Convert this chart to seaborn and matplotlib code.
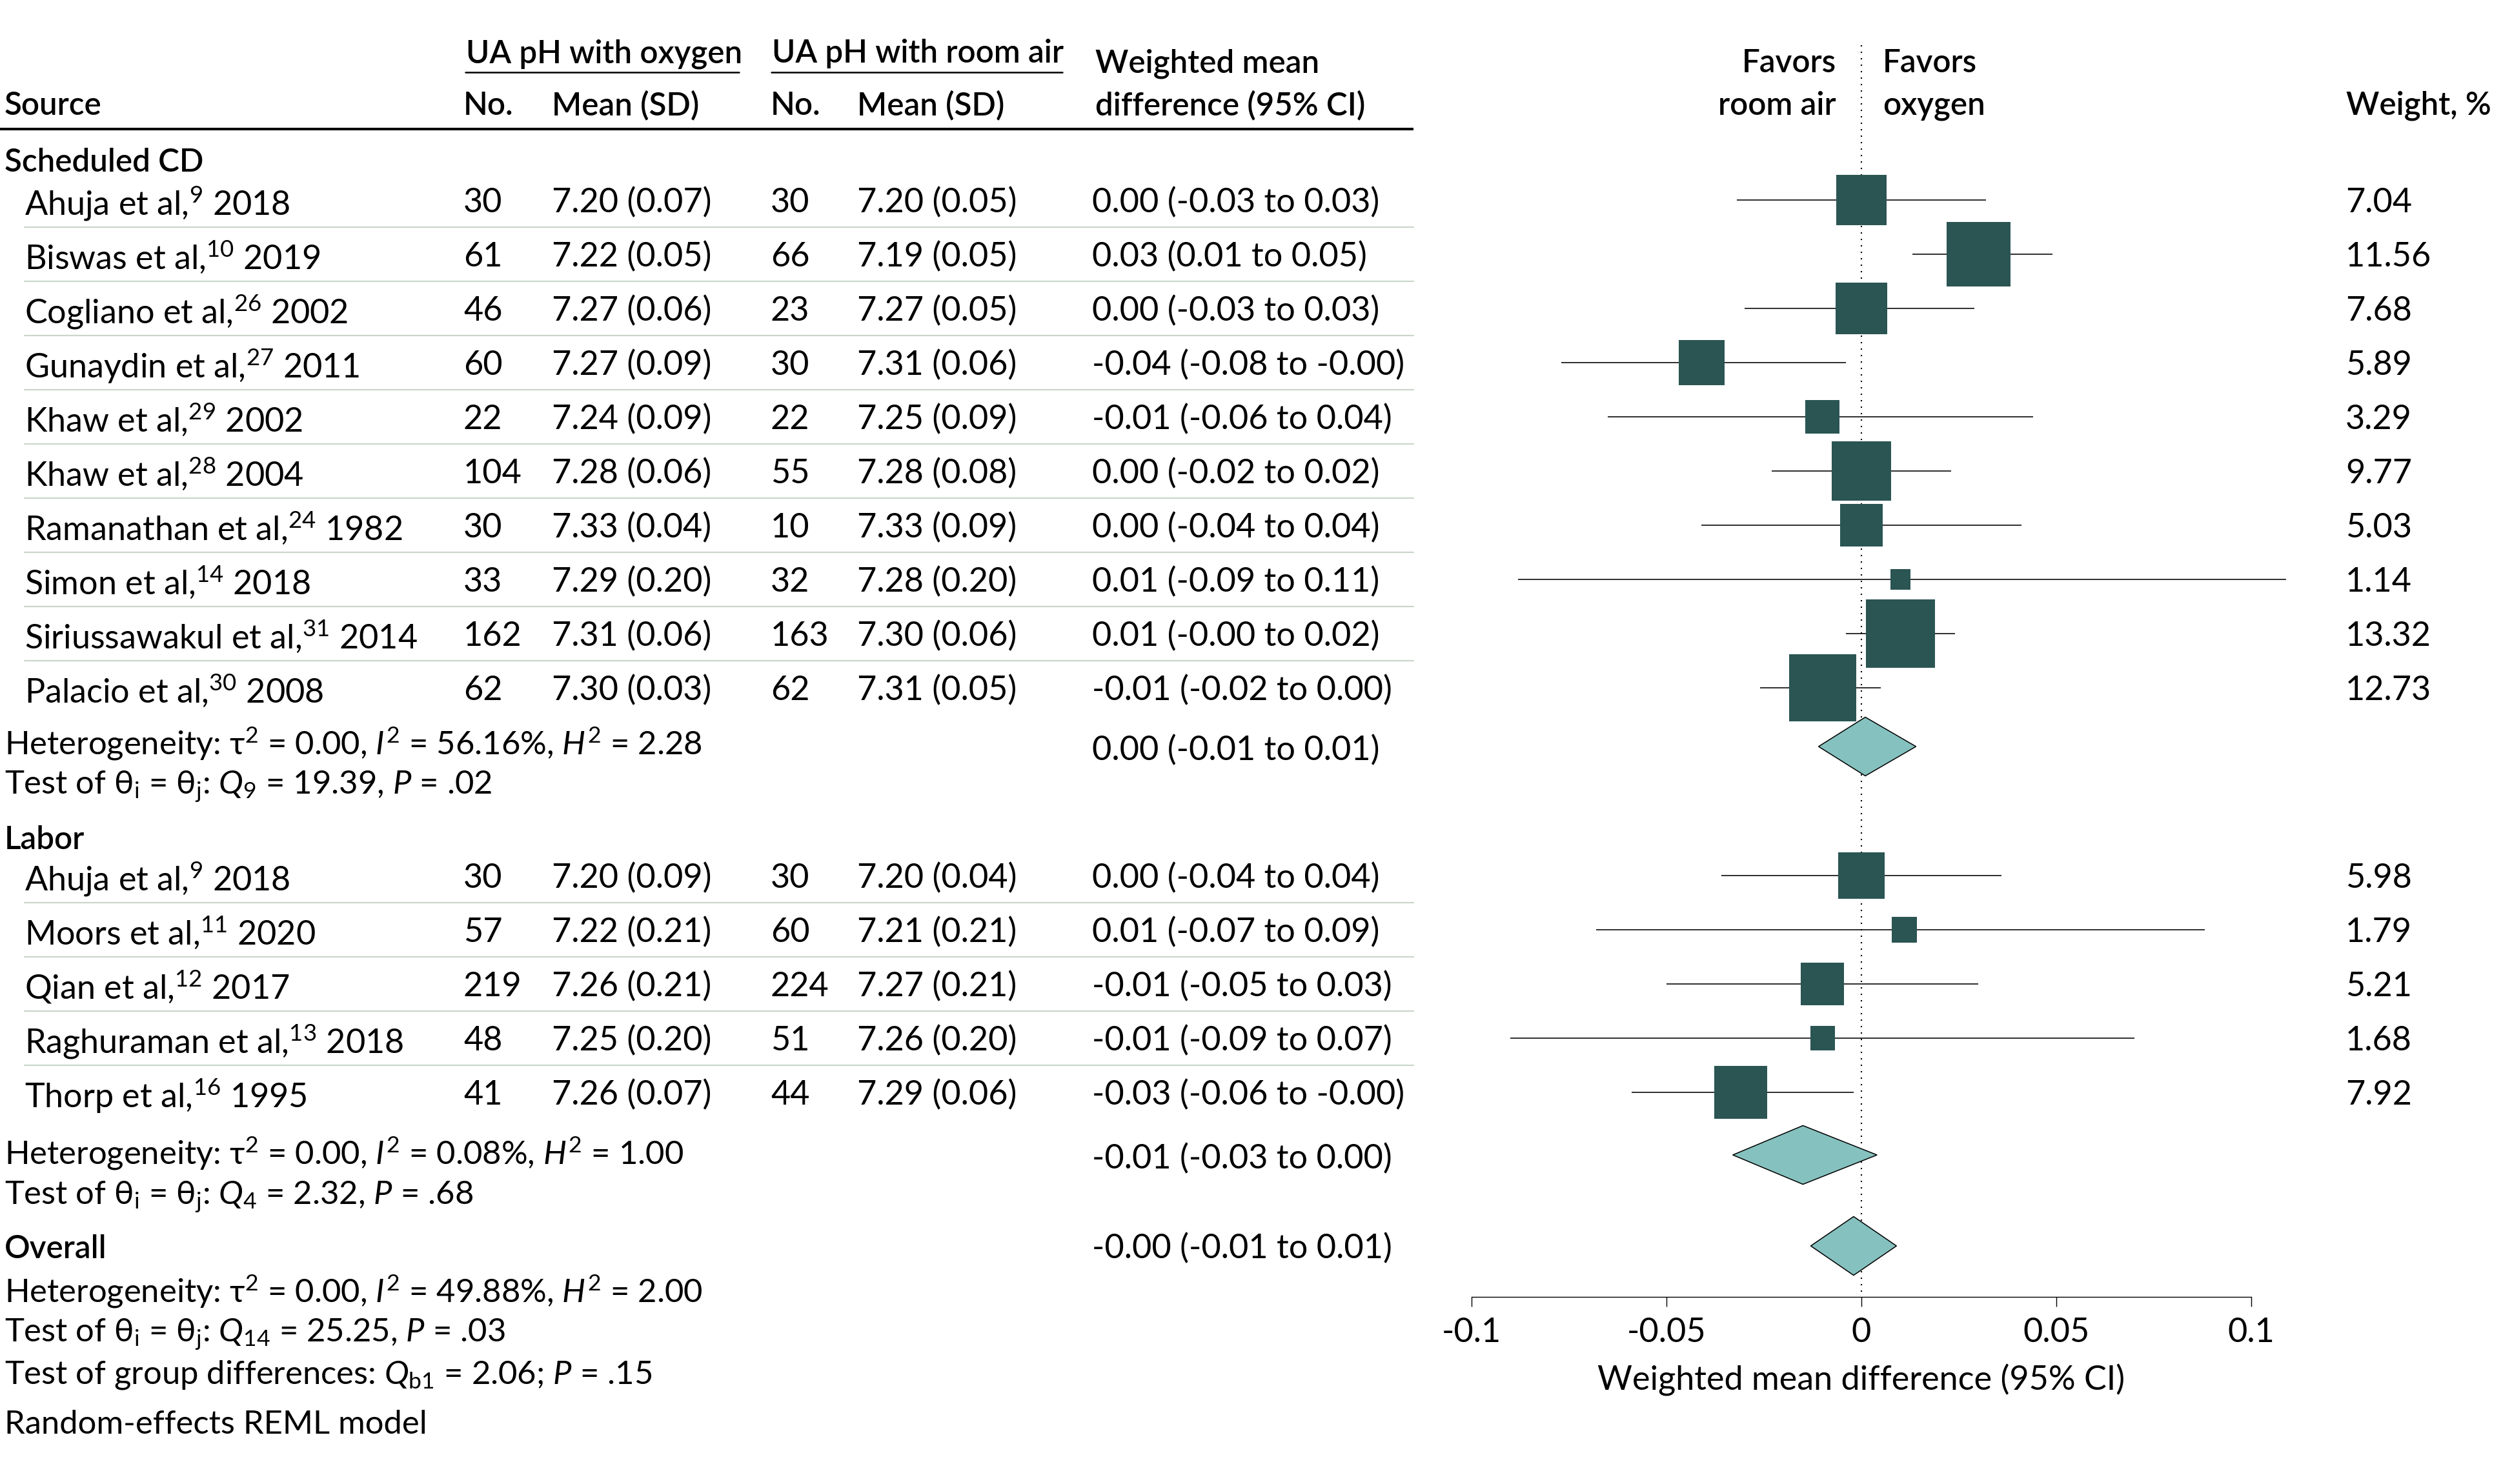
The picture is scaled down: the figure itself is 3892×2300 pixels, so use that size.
import numpy as np
import pandas as pd
import matplotlib
matplotlib.use("Agg")
import matplotlib.pyplot as plt
import seaborn as sns
from matplotlib.patches import Polygon

# ---------------- data ----------------
cd_names = ["Ahuja et al", "Biswas et al", "Cogliano et al", "Gunaydin et al", "Khaw et al",
            "Khaw et al", "Ramanathan et al", "Simon et al", "Siriussawakul et al", "Palacio et al"]
cd_refs = ["9", "10", "26", "27", "29", "28", "24", "14", "31", "30"]
cd_years = ["2018", "2019", "2002", "2011", "2002", "2004", "1982", "2018", "2014", "2008"]
cd_n_ox = ["30", "61", "46", "60", "22", "104", "30", "33", "162", "62"]
cd_mean_ox = ["7.20 (0.07)", "7.22 (0.05)", "7.27 (0.06)", "7.27 (0.09)", "7.24 (0.09)",
              "7.28 (0.06)", "7.33 (0.04)", "7.29 (0.20)", "7.31 (0.06)", "7.30 (0.03)"]
cd_n_ra = ["30", "66", "23", "30", "22", "55", "10", "32", "163", "62"]
cd_mean_ra = ["7.20 (0.05)", "7.19 (0.05)", "7.27 (0.05)", "7.31 (0.06)", "7.25 (0.09)",
              "7.28 (0.08)", "7.33 (0.09)", "7.28 (0.20)", "7.30 (0.06)", "7.31 (0.05)"]
cd_ci_text = ["0.00 (-0.03 to 0.03)", "0.03 (0.01 to 0.05)", "0.00 (-0.03 to 0.03)",
              "-0.04 (-0.08 to -0.00)", "-0.01 (-0.06 to 0.04)", "0.00 (-0.02 to 0.02)",
              "0.00 (-0.04 to 0.04)", "0.01 (-0.09 to 0.11)", "0.01 (-0.00 to 0.02)",
              "-0.01 (-0.02 to 0.00)"]
cd_weight = [7.04, 11.56, 7.68, 5.89, 3.29, 9.77, 5.03, 1.14, 13.32, 12.73]
cd_est = [0.000, 0.030, 0.000, -0.041, -0.010, 0.000, 0.000, 0.010, 0.010, -0.010]
cd_lo = [-0.032, 0.013, -0.030, -0.077, -0.065, -0.023, -0.041, -0.088, -0.004, -0.026]
cd_hi = [0.032, 0.049, 0.029, -0.004, 0.044, 0.023, 0.041, 0.109, 0.024, 0.005]

lab_names = ["Ahuja et al", "Moors et al", "Qian et al", "Raghuraman et al", "Thorp et al"]
lab_refs = ["9", "11", "12", "13", "16"]
lab_years = ["2018", "2020", "2017", "2018", "1995"]
lab_n_ox = ["30", "57", "219", "48", "41"]
lab_mean_ox = ["7.20 (0.09)", "7.22 (0.21)", "7.26 (0.21)", "7.25 (0.20)", "7.26 (0.07)"]
lab_n_ra = ["30", "60", "224", "51", "44"]
lab_mean_ra = ["7.20 (0.04)", "7.21 (0.21)", "7.27 (0.21)", "7.26 (0.20)", "7.29 (0.06)"]
lab_ci_text = ["0.00 (-0.04 to 0.04)", "0.01 (-0.07 to 0.09)", "-0.01 (-0.05 to 0.03)",
               "-0.01 (-0.09 to 0.07)", "-0.03 (-0.06 to -0.00)"]
lab_weight = [5.98, 1.79, 5.21, 1.68, 7.92]
lab_est = [0.000, 0.011, -0.010, -0.010, -0.031]
lab_lo = [-0.036, -0.068, -0.050, -0.090, -0.059]
lab_hi = [0.036, 0.088, 0.030, 0.070, -0.002]

summary_labels = ["Scheduled CD", "Labor", "Overall"]
summary_ci_text = ["0.00 (-0.01 to 0.01)", "-0.01 (-0.03 to 0.00)", "-0.00 (-0.01 to 0.01)"]
summary_est = [0.001, -0.015, -0.002]
summary_lo = [-0.011, -0.033, -0.013]
summary_hi = [0.014, 0.004, 0.009]

cd_stats = [r"Heterogeneity: $\mathrm{\tau}^2$ = 0.00, $I^2$ = 56.16%, $H^2$ = 2.28",
            r"Test of $\mathrm{\theta}_\mathrm{i}$ = $\mathrm{\theta}_\mathrm{j}$: $Q_9$ = 19.39, $P$ = .02"]
lab_stats = [r"Heterogeneity: $\mathrm{\tau}^2$ = 0.00, $I^2$ = 0.08%, $H^2$ = 1.00",
             r"Test of $\mathrm{\theta}_\mathrm{i}$ = $\mathrm{\theta}_\mathrm{j}$: $Q_4$ = 2.32, $P$ = .68"]
overall_stats = [r"Heterogeneity: $\mathrm{\tau}^2$ = 0.00, $I^2$ = 49.88%, $H^2$ = 2.00",
                 r"Test of $\mathrm{\theta}_\mathrm{i}$ = $\mathrm{\theta}_\mathrm{j}$: $Q_{14}$ = 25.25, $P$ = .03",
                 r"Test of group differences: $Q_\mathrm{b1}$ = 2.06; $P$ = .15"]
footnote = "Random-effects REML model"

xticks = [-0.1, -0.05, 0, 0.05, 0.1]
xtick_labels = ["-0.1", "-0.05", "0", "0.05", "0.1"]

# ---------------- style ----------------
sns.set_theme(style="white")
FONT = "Lato"
plt.rcParams["font.family"] = [FONT, "DejaVu Sans"]
plt.rcParams["mathtext.fontset"] = "custom"
plt.rcParams["mathtext.rm"] = FONT
plt.rcParams["mathtext.it"] = FONT + ":italic"
plt.rcParams["mathtext.bf"] = FONT + ":bold"
plt.rcParams["mathtext.sf"] = FONT
plt.rcParams["axes.unicode_minus"] = False

BOX = "#2a5553"
DIAM = "#85c1bf"
SEP = "#c9d7cb"
FS = 37.5
HFS = 35.5
SFS = 36.5

W, H = 3892, 2300
fig = plt.figure(figsize=(W / 100, H / 100), dpi=100)

# table axes (pixel coordinates)
tab = fig.add_axes([0, 0, 1, 1])
tab.set_xlim(0, W)
tab.set_ylim(H, 0)
tab.axis("off")

# forest axes: y in pixel units shared with table, x in data units
AX_TOP_PX, AX_BOT_PX = 0, 2010
X0_PX, X1_PX = 2280, 3488
ax = fig.add_axes([X0_PX / W, 1 - AX_BOT_PX / H, (X1_PX - X0_PX) / W, (AX_BOT_PX - AX_TOP_PX) / H])
ax.patch.set_alpha(0)
ax.set_xlim(-0.1, 0.1)
ax.set_ylim(AX_BOT_PX, AX_TOP_PX)

# ---------------- layout (row positions) ----------------
cd_y = [310 + 84 * i for i in range(len(cd_names))]
lab_y = [1357 + 84 * i for i in range(len(lab_names))]
sum_y = [1157, 1790, 1931]

df = pd.DataFrame({
    "est": cd_est + lab_est,
    "lo": cd_lo + lab_lo,
    "hi": cd_hi + lab_hi,
    "weight": cd_weight + lab_weight,
    "y": cd_y + lab_y,
})

# CI lines
ax.hlines(df["y"], df["lo"], df["hi"], color="black", lw=1.15, zorder=2, clip_on=False)
# weighted squares (area proportional to weight)
wmin, wmax = df["weight"].min(), df["weight"].max()
k = 441.0
sns.scatterplot(data=df, x="est", y="y", size="weight", sizes=(k * wmin, k * wmax),
                size_norm=(wmin, wmax), marker="s", color=BOX, linewidth=0,
                legend=False, ax=ax, zorder=3, clip_on=False)

# diamonds
DH = 91
for e, lo, hi, y in zip(summary_est, summary_lo, summary_hi, sum_y):
    ax.add_patch(Polygon([(lo, y), (e, y - DH / 2), (hi, y), (e, y + DH / 2)], closed=True,
                         facecolor=DIAM, edgecolor="black", lw=1.1, zorder=4, clip_on=False))

# zero line
ax.vlines(0, 70, AX_BOT_PX, colors="black", linestyles=(0, (1, 3.8)), lw=1.5, zorder=1)

# axis styling
for s in ["left", "top", "right"]:
    ax.spines[s].set_visible(False)
ax.spines["bottom"].set_linewidth(1.0)
ax.spines["bottom"].set_color("black")
ax.set_yticks([])
ax.set_xticks(xticks)
ax.set_xticklabels(xtick_labels)
ax.tick_params(axis="x", length=11, width=1.0, pad=12, labelsize=FS, colors="black", bottom=True)
ax.set_xlabel("Weighted mean difference (95% CI)", fontsize=FS, labelpad=18, color="black")
ax.set_ylabel("")

# ---------------- table text ----------------
def t(x, y, s, ha="left", fs=FS, **kw):
    tab.text(x, y, s, ha=ha, va="center_baseline", fontsize=fs, color="black", **kw)

def h(x, y, s, ha="left"):
    t(x, y, s, ha=ha, fs=HFS, fontweight="semibold")

# headers
h(722, 79, "UA pH with oxygen")
h(1196, 79, "UA pH with room air")
tab.plot([721, 1145], [112, 112], color="black", lw=1.8)
tab.plot([1195, 1646], [112, 112], color="black", lw=1.8)
h(1697, 94, "Weighted mean")
h(1697, 159, "difference (95% CI)")
h(7, 159, "Source")
h(718, 159, "No.")
h(855, 159, "Mean (SD)")
h(1194, 159, "No.")
h(1328, 159, "Mean (SD)")
h(2845, 94, "Favors", ha="right")
h(2845, 159, "room air", ha="right")
h(2917, 94, "Favors")
h(2917, 159, "oxygen")
h(3635, 159, "Weight, %")
tab.plot([0, 2190], [200, 200], color="black", lw=2.9, solid_capstyle="butt")

def rows(ys, names, refs, years, nox, mox, nra, mra, cis, ws):
    for i, y in enumerate(ys):
        t(38, y, f"{names[i]},$^{{{refs[i]}}}$ {years[i]}")
        t(718, y, nox[i])
        t(855, y, mox[i])
        t(1194, y, nra[i])
        t(1328, y, mra[i])
        t(1692, y, cis[i])
        t(3634, y, f"{ws[i]:.2f}")
        if i < len(ys) - 1:
            ym = (ys[i] + ys[i + 1]) / 2
            tab.plot([38, 2190], [ym, ym], color=SEP, lw=1.6, zorder=0)

h(7, 248, summary_labels[0])
rows(cd_y, cd_names, cd_refs, cd_years, cd_n_ox, cd_mean_ox, cd_n_ra, cd_mean_ra, cd_ci_text, cd_weight)
t(7, 1147, cd_stats[0], fs=SFS)
t(7, 1211, cd_stats[1], fs=SFS)
t(1692, 1159, summary_ci_text[0])

h(7, 1298, summary_labels[1])
rows(lab_y, lab_names, lab_refs, lab_years, lab_n_ox, lab_mean_ox, lab_n_ra, lab_mean_ra, lab_ci_text, lab_weight)
t(7, 1782, lab_stats[0], fs=SFS)
t(7, 1847, lab_stats[1], fs=SFS)
t(1692, 1792, summary_ci_text[1])

h(7, 1931, summary_labels[2])
t(1692, 1931, summary_ci_text[2])
t(7, 1996, overall_stats[0], fs=SFS)
t(7, 2060, overall_stats[1], fs=SFS)
t(7, 2125, overall_stats[2], fs=SFS)
t(7, 2204, footnote, fs=SFS)

fig.savefig("out.png", dpi=100, facecolor="white")
